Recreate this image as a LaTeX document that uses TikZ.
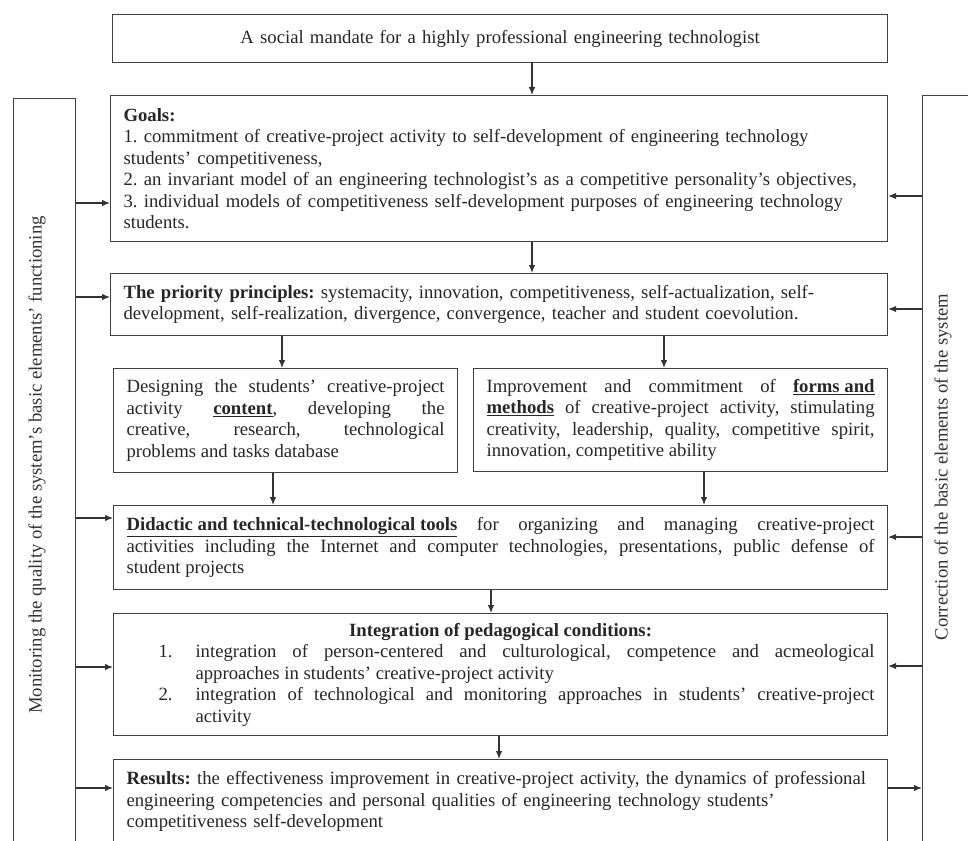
\documentclass[tikz,border=0pt]{standalone}
\usepackage{fontspec}
\setmainfont{Liberation Serif}
\usetikzlibrary{arrows.meta}
\newcommand\ulbf[1]{\underline{\textbf{#1}}}
\newcommand\itemno[1]{\noindent\hangindent=69pt\hangafter=0\llap{#1\hspace{23pt}}}

\begin{document}
\frenchspacing
\begin{tikzpicture}[x=1pt,y=-1pt,
  box/.style={draw=black!75, line width=1.1pt, anchor=north west, inner xsep=13pt, inner ysep=0pt, text=black!85, font=\fontsize{18.7}{21.5}\selectfont\frenchspacing},
  side/.style={draw=black!75, line width=1.1pt, anchor=north west, inner sep=0pt},
  sidetext/.style={rotate=90, text=black!80, font=\fontsize{18.7}{21.5}\selectfont},
  arr/.style={draw=black!80, line width=1.1pt, -{Latex[length=8pt,width=6.5pt]}}]
\useasboundingbox (0,0) rectangle (968,840);
\clip (0,0) rectangle (968,840);

\node [box, align=center, text width=749pt, minimum height=48pt] (mandate) at (112,14) {A social mandate for a highly professional engineering technologist};

\node [side, minimum width=62pt, minimum height=770pt] (monitor) at (13,98) {};
\node [sidetext] (monitortext) at (37,465) {Monitoring the quality of the system's basic elements' functioning};
\node [side, minimum width=70pt, minimum height=770pt] (correct) at (922,95) {};
\node [sidetext] (correcttext) at (943,467) {Correction of the basic elements of the system};

\node [box, align=left, text width=751pt, minimum height=146pt] (goals) at (110,95) {\textbf{Goals:}\\1. commitment of creative-project activity to self-development of engineering technology\\students' competitiveness,\\2. an invariant model of an engineering technologist's as a competitive personality's objectives,\\3. individual models of competitiveness self-development purposes of engineering technology\\students.};

\node [box, align=left, text width=751pt, minimum height=62pt] (principles) at (110,273) {\textbf{The priority principles:} systemacity, innovation, competitiveness, self-actualization, self-\\development, self-realization, divergence, convergence, teacher and student coevolution.};

\node [box, align=justify, text width=318pt, minimum height=104pt] (content) at (113,368) {Designing the students' creative-project\linebreak activity \ulbf{content}, developing the\linebreak creative, research, technological\linebreak problems and tasks database};

\node [box, align=justify, text width=388pt, minimum height=103pt] (forms) at (473,368) {Improvement and commitment of \ulbf{forms and}\linebreak \ulbf{methods} of creative-project activity, stimulating\linebreak creativity, leadership, quality, competitive spirit,\linebreak innovation, competitive ability};

\node [box, align=justify, text width=748pt, minimum height=84pt] (didactic) at (113,505) {\ulbf{Didactic and technical-technological tools} for organizing and managing creative-project\linebreak activities including the Internet and computer technologies, presentations, public defense of\linebreak student projects};

\node [box, align=justify, text width=748pt, minimum height=122pt] (integration) at (113,613) {{\centering\textbf{Integration of pedagogical conditions:}\par}
\itemno{1.}integration of person-centered and culturological, competence and acmeological\linebreak approaches in students' creative-project activity\par
\itemno{2.}integration of technological and monitoring approaches in students' creative-project\linebreak activity\par};

\node [box, align=left, text width=748pt, minimum height=84pt] (results) at (113,759) {\textbf{Results:} the effectiveness improvement in creative-project activity, the dynamics of professional\\engineering competencies and personal qualities of engineering technology students'\\competitiveness self-development};

\draw [arr] (mandate.south -| 532,0) -- (goals.north -| 532,0);
\draw [arr] (goals.south -| 532,0) -- (principles.north -| 532,0);
\draw [arr] (principles.south -| 282,0) -- (content.north -| 282,0);
\draw [arr] (principles.south -| 664,0) -- (forms.north -| 664,0);
\draw [arr] (content.south -| 273,0) -- (didactic.north -| 273,0);
\draw [arr] (forms.south -| 704,0) -- (didactic.north -| 704,0);
\draw [arr] (didactic.south -| 491,0) -- (integration.north -| 491,0);
\draw [arr] (integration.south -| 499,0) -- (results.north -| 499,0);

\draw [arr] (monitor.east |- 0,203) -- (goals.west |- 0,203);
\draw [arr] (monitor.east |- 0,297) -- (principles.west |- 0,297);
\draw [arr] (monitor.east |- 0,518) -- (didactic.west |- 0,518);
\draw [arr] (monitor.east |- 0,667) -- (integration.west |- 0,667);
\draw [arr] (monitor.east |- 0,788) -- (results.west |- 0,788);

\draw [arr] (correct.west |- 0,196) -- (goals.east |- 0,196);
\draw [arr] (correct.west |- 0,309) -- (principles.east |- 0,309);
\draw [arr] (correct.west |- 0,537) -- (didactic.east |- 0,537);
\draw [arr] (correct.west |- 0,666) -- (integration.east |- 0,666);
\draw [arr] (results.east |- 0,788) -- (correct.west |- 0,788);
\end{tikzpicture}
\end{document}
